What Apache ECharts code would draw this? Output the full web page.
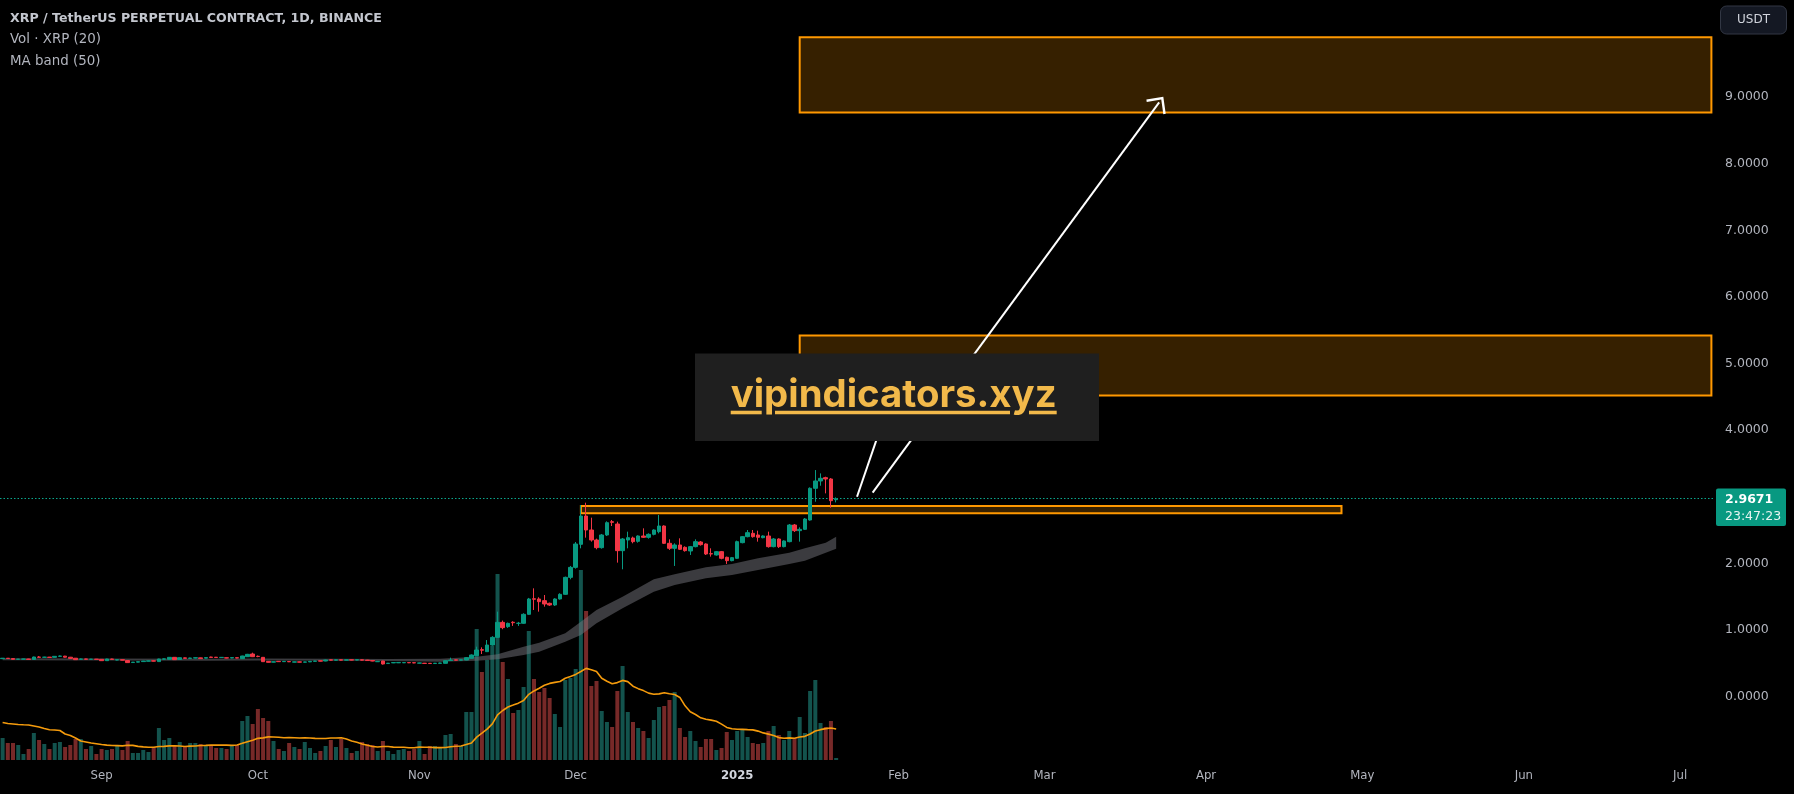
<!DOCTYPE html>
<html><head><meta charset="utf-8">
<script src="https://cdn.jsdelivr.net/npm/echarts@6/dist/echarts.min.js"></script>
<style>html,body{margin:0;padding:0;background:#000;}#c{width:1794px;height:794px;}</style>
</head><body><div id="c"></div>
<script>
// ---------- data ----------
const startDate = '2024-08-13';
const totalDays = 329; // Aug 13 2024 .. Jul 7 2025
// daily candles from 2024-08-13 to 2025-01-20: [open, close, low, high]
const candles = [
[0.568,0.575,0.565,0.578],[0.575,0.570,0.567,0.578],[0.570,0.558,0.555,0.572],[0.558,0.561,0.555,0.564],
[0.561,0.563,0.558,0.566],[0.563,0.556,0.553,0.566],[0.556,0.593,0.553,0.598],[0.593,0.588,0.583,0.608],
[0.588,0.591,0.584,0.596],[0.591,0.586,0.582,0.594],[0.588,0.603,0.585,0.606],[0.603,0.608,0.598,0.615],
[0.606,0.590,0.586,0.610],[0.590,0.572,0.568,0.594],[0.575,0.553,0.549,0.578],[0.558,0.564,0.550,0.570],
[0.564,0.559,0.555,0.567],[0.558,0.561,0.554,0.564],[0.561,0.557,0.553,0.564],
[0.558,0.538,0.534,0.561],[0.538,0.563,0.535,0.566],[0.563,0.557,0.552,0.567],[0.548,0.552,0.544,0.556],
[0.552,0.546,0.542,0.555],[0.540,0.509,0.505,0.543],[0.510,0.516,0.506,0.519],[0.516,0.523,0.513,0.526],
[0.524,0.532,0.521,0.535],[0.530,0.535,0.527,0.539],[0.536,0.531,0.527,0.540],[0.524,0.563,0.521,0.567],
[0.560,0.565,0.556,0.570],[0.558,0.588,0.555,0.593],[0.588,0.553,0.549,0.592],[0.556,0.583,0.552,0.587],
[0.580,0.573,0.569,0.584],[0.572,0.578,0.568,0.582],[0.577,0.582,0.573,0.586],[0.580,0.569,0.565,0.584],
[0.576,0.584,0.572,0.588],[0.592,0.587,0.583,0.598],[0.590,0.585,0.581,0.594],[0.584,0.588,0.580,0.592],
[0.582,0.577,0.573,0.586],[0.578,0.584,0.574,0.588],[0.583,0.577,0.573,0.587],[0.568,0.608,0.565,0.612],
[0.598,0.633,0.595,0.640],[0.638,0.598,0.592,0.658],[0.604,0.600,0.590,0.615],[0.588,0.523,0.518,0.592],
[0.528,0.513,0.509,0.531],[0.516,0.522,0.512,0.526],[0.528,0.523,0.519,0.532],[0.523,0.528,0.519,0.532],
[0.526,0.521,0.517,0.530],[0.516,0.520,0.512,0.524],[0.520,0.516,0.512,0.524],[0.515,0.519,0.511,0.523],
[0.520,0.528,0.516,0.532],[0.528,0.533,0.524,0.537],[0.536,0.531,0.527,0.540],[0.533,0.548,0.529,0.552],
[0.550,0.546,0.542,0.555],[0.545,0.550,0.541,0.554],[0.551,0.546,0.542,0.555],[0.546,0.550,0.542,0.554],
[0.551,0.547,0.543,0.555],[0.548,0.552,0.544,0.556],[0.551,0.546,0.542,0.555],[0.546,0.540,0.536,0.550],
[0.540,0.532,0.528,0.544],[0.522,0.527,0.518,0.531],[0.533,0.488,0.480,0.537],[0.495,0.500,0.491,0.504],
[0.505,0.510,0.501,0.514],[0.506,0.511,0.502,0.515],[0.506,0.510,0.502,0.514],[0.510,0.506,0.502,0.514],
[0.508,0.504,0.500,0.512],[0.500,0.504,0.496,0.508],[0.500,0.496,0.492,0.504],[0.499,0.495,0.491,0.503],
[0.495,0.500,0.491,0.504],[0.498,0.503,0.494,0.507],[0.498,0.538,0.495,0.542],[0.540,0.548,0.536,0.583],
[0.550,0.545,0.541,0.554],[0.546,0.551,0.542,0.556],[0.548,0.583,0.545,0.590],[0.573,0.623,0.570,0.632],
[0.613,0.698,0.608,0.748],[0.703,0.695,0.638,0.738],[0.673,0.773,0.668,0.848],[0.773,0.888,0.765,0.905],
[0.888,1.113,0.880,1.274],[1.113,1.034,1.010,1.140],[1.049,1.098,1.030,1.110],[1.115,1.108,1.060,1.130],
[1.098,1.100,1.060,1.120],[1.099,1.234,1.090,1.250],[1.234,1.464,1.225,1.480],[1.468,1.460,1.299,1.624],
[1.464,1.424,1.274,1.490],[1.439,1.389,1.349,1.524],[1.399,1.374,1.360,1.410],[1.374,1.464,1.360,1.475],
[1.464,1.534,1.455,1.550],[1.534,1.789,1.525,1.800],[1.789,1.939,1.760,1.960],[1.939,2.290,1.920,2.320],
[2.285,2.710,2.225,2.875],[2.710,2.500,2.385,2.910],[2.500,2.350,2.325,2.685],[2.350,2.235,2.210,2.370],
[2.235,2.425,2.220,2.440],[2.425,2.610,2.410,2.630],[2.625,2.615,2.560,2.650],[2.590,2.190,2.010,2.625],
[2.190,2.365,1.910,2.380],[2.350,2.385,2.225,2.475],[2.380,2.325,2.300,2.400],[2.330,2.410,2.310,2.420],
[2.410,2.390,2.380,2.525],[2.390,2.435,2.370,2.450],[2.435,2.500,2.420,2.510],[2.475,2.560,2.450,2.725],
[2.560,2.300,2.290,2.570],[2.300,2.225,2.200,2.360],[2.225,2.275,1.960,2.300],[2.275,2.210,2.200,2.375],
[2.240,2.190,2.175,2.255],[2.185,2.250,2.125,2.260],[2.250,2.325,2.240,2.360],[2.320,2.280,2.265,2.335],
[2.290,2.140,2.125,2.300],[2.145,2.140,2.100,2.225],[2.125,2.175,2.115,2.185],[2.175,2.075,2.060,2.185],
[2.090,2.040,1.990,2.100],[2.040,2.085,2.030,2.095],[2.075,2.325,2.065,2.340],[2.310,2.400,2.300,2.410],
[2.400,2.460,2.390,2.500],[2.450,2.400,2.385,2.500],[2.425,2.390,2.325,2.490],[2.385,2.410,2.375,2.420],
[2.410,2.250,2.235,2.475],[2.250,2.365,2.240,2.380],[2.365,2.250,2.230,2.375],[2.250,2.335,2.240,2.345],
[2.325,2.575,2.315,2.590],[2.575,2.490,2.470,2.590],[2.490,2.510,2.325,2.540],[2.510,2.665,2.500,2.680],
[2.650,3.126,2.640,3.140],[3.126,3.236,2.925,3.400],[3.236,3.276,3.165,3.350],[3.286,3.266,3.050,3.300],
[3.266,2.940,2.835,3.280],[2.955,2.9671,2.915,2.990]
];
// volume (relative units)
const volumes = [
22,17,17,15,6,11,27,20,16,11,17,18,13,15,21,21,11,14,6,11,
10,11,14,10,19,7,7,10,8,13,
32,20,22,15,18,13,17,17,16,14,
15,12,12,11,14,15,39,44,36,51,
42,39,19,11,9,17,13,11,18,12,
7,9,14,20,13,21,12,7,9,18,
16,15,9,19,9,6,10,11,9,11,
19,6,14,14,12,25,26,16,14,48,
48,131,88,100,114,186,
98,81,47,50,73,129,81,68,72,62,
46,33,80,82,91,190,149,74,79,49,
38,33,69,94,48,38,32,29,22,40,
53,54,60,68,32,23,29,19,13,21,
21,10,12,28,20,29,30,23,17,16,
17,29,34,25,20,29,22,43,27,69,
80,37,33,39,2
];
// Vol MA(20) values read for the first 19 days (earlier history not visible)
const volMASeed = [37.5,36.5,36,35.5,35.2,35,34,33,31.5,30.2,30,29.5,26,24.5,22,19,18,17,16.3];
// MA band (50) edges
const bandDates = ['2024-08-13','2024-09-01','2024-09-21','2024-10-01','2024-10-16','2024-10-26','2024-11-05','2024-11-12','2024-11-16','2024-11-21','2024-11-24','2024-11-29','2024-12-02','2024-12-05','2024-12-10','2024-12-16','2024-12-20','2024-12-26','2024-12-31','2025-01-05','2025-01-11','2025-01-14','2025-01-18','2025-01-20'];
const bandUpper = [0.575,0.572,0.568,0.572,0.566,0.562,0.566,0.598,0.633,0.748,0.808,0.948,1.124,1.299,1.499,1.759,1.834,1.939,1.990,2.075,2.160,2.225,2.310,2.400];
const bandLower = [0.545,0.542,0.538,0.542,0.538,0.532,0.523,0.538,0.558,0.623,0.673,0.823,0.923,1.099,1.324,1.574,1.674,1.774,1.824,1.899,1.990,2.040,2.160,2.220];
// drawings
const zones = [
  {from:'2024-12-02', to:'2025-04-27', top:2.86, bottom:2.75},
  {from:'2025-01-13', to:'2025-07-07', top:5.42, bottom:4.52},
  {from:'2025-01-13', to:'2025-07-07', top:9.90, bottom:8.77}
];
const arrowA = [['2025-01-24',3.00],['2025-01-31',4.60]];
const arrowB = [['2025-01-27',3.06],['2025-03-23',8.92]];
const lastPrice = 2.9671;
const countdown = '23:47:23';
const priceTicks = [0,1,2,4,5,6,7,8,9];
const monthNames = ['Jan','Feb','Mar','Apr','May','Jun','Jul','Aug','Sep','Oct','Nov','Dec'];

// ---------- build ----------
const categories = [];
{
  const t0 = Date.parse(startDate + 'T00:00:00Z');
  for (let i = 0; i < totalDays; i++) {
    categories.push(new Date(t0 + i * 86400000).toISOString().slice(0, 10));
  }
}
const UP = '#089981', DOWN = '#f23645';
const volData = volumes.map((v, i) => ({
  value: v,
  itemStyle: {color: candles[i][1] >= candles[i][0] ? '#13534d' : '#772928'}
}));
const volMA = volumes.map((v, i) => {
  if (i < 19) return volMASeed[i];
  let s = 0; for (let k = i - 19; k <= i; k++) s += volumes[k];
  return +(s / 20).toFixed(2);
});
const catIdx = d => categories.indexOf(d);

const chevron = 'path://M12,0 L24,12 L22.3,13.7 L12,3.4 L1.7,13.7 L0,12 Z';

const chart = echarts.init(document.getElementById('c'), null, {renderer: 'canvas'});
const FONT = "'DejaVu Sans', sans-serif";

chart.setOption({
  backgroundColor: '#000000',
  animation: false,
  grid: [
    {left: 0, right: 80, top: 30.5, height: 732.6, containLabel: false},
    {left: 0, right: 80, top: 560, height: 200, containLabel: false}
  ],
  xAxis: [
    {type: 'category', gridIndex: 0, data: categories, boundaryGap: true, show: false},
    {type: 'category', gridIndex: 1, data: categories, boundaryGap: true,
     axisLine: {show: false}, axisTick: {show: false}, splitLine: {show: false},
     axisLabel: {
       show: true, margin: 9, hideOverlap: false,
       interval: (i, v) => v.slice(8) === '01',
       fontFamily: "'DejaVu Sans Condensed', 'DejaVu Sans', sans-serif", fontSize: 13, color: '#b2b5be',
       formatter: v => {
         const m = +v.slice(5, 7) - 1;
         return m === 0 ? '{y|' + v.slice(0, 4) + '}' : monthNames[m];
       },
       rich: {y: {fontWeight: 'bold', color: '#d1d4dc', fontSize: 13, fontFamily: "'DejaVu Sans Condensed', 'DejaVu Sans', sans-serif"}}
     }}
  ],
  yAxis: [
    {type: 'value', gridIndex: 0, position: 'right', min: -1, max: 10, interval: 1,
     axisLine: {show: false}, axisTick: {show: false}, splitLine: {show: false},
     axisLabel: {margin: 11, color: '#b2b5be', fontSize: 12.5, fontFamily: FONT,
       formatter: v => priceTicks.indexOf(v) >= 0 ? v.toFixed(4) : ''}},
    {type: 'value', gridIndex: 1, min: 0, max: 200, show: false}
  ],
  series: [
    {type: 'bar', name: 'Vol', xAxisIndex: 1, yAxisIndex: 1, data: volData, barWidth: 4, z: 1, silent: true},
    {type: 'line', name: 'VolMA', xAxisIndex: 1, yAxisIndex: 1, data: volMA, showSymbol: false, z: 2, silent: true,
     lineStyle: {color: '#f59b0c', width: 1.6}},
    {type: 'custom', name: 'MA band', xAxisIndex: 0, yAxisIndex: 0, z: 3, silent: true,
     data: [[0, 0]],
     renderItem: (params, api) => {
       if (params.dataIndex !== 0) return null;
       const top = bandDates.map((d, k) => api.coord([catIdx(d), bandUpper[k]]));
       const bot = bandDates.map((d, k) => api.coord([catIdx(d), bandLower[k]])).reverse();
       return {type: 'polygon', shape: {points: top.concat(bot)}, style: {fill: 'rgba(118,118,126,0.5)'}};
     }},
    {type: 'candlestick', name: 'XRP', xAxisIndex: 0, yAxisIndex: 0, z: 5, silent: true,
     barWidth: 4,
     data: candles,
     itemStyle: {color: UP, color0: DOWN, borderColor: UP, borderColor0: DOWN, borderWidth: 1},
     markArea: {
       silent: true,
       itemStyle: {color: 'rgba(255,152,0,0.21)', borderColor: '#ff9800', borderWidth: 2},
       data: zones.map(z => [{xAxis: z.from, yAxis: z.top}, {xAxis: z.to, yAxis: z.bottom}])
     },
     markLine: {
       silent: true, symbol: ['none', 'none'], label: {show: false},
       emphasis: {disabled: true},
       data: [
         {yAxis: lastPrice, lineStyle: {color: '#0aa88e', type: [1.5, 2], width: 1.2}},
         [{coord: arrowA[0], lineStyle: {color: '#ffffff', width: 2, type: 'solid'}}, {coord: arrowA[1]}],
         [{coord: arrowB[0], symbol: 'none', lineStyle: {color: '#ffffff', width: 2, type: 'solid'}},
          {coord: arrowB[1], symbol: chevron, symbolSize: [24, 14]}]
       ]
     }}
  ]
});

// ---------- overlays (text) ----------
const py = chart.convertToPixel({yAxisIndex: 0}, lastPrice);
const canvas = document.createElement('canvas');
const ctx = canvas.getContext('2d');
ctx.font = "bold 40px Inter";
const wmText = 'vipindicators.xyz';
const wmFont = 40 * 326 / ctx.measureText(wmText).width;
const UL = '#f2b94a';

chart.setOption({
  graphic: [
    {type: 'text', left: 10, top: 12.5, z: 100, silent: true,
     style: {text: 'XRP / TetherUS PERPETUAL CONTRACT, 1D, BINANCE', fill: '#c3c6ce', fontFamily: FONT, fontSize: 12.6, fontWeight: 'bold'}},
    {type: 'text', left: 10, top: 33.5, z: 100, silent: true,
     style: {text: 'Vol · XRP (20)', fill: '#b2b5be', fontFamily: FONT, fontSize: 13.4}},
    {type: 'text', left: 10, top: 55.5, z: 100, silent: true,
     style: {text: 'MA band (50)', fill: '#b2b5be', fontFamily: FONT, fontSize: 13.4}},
    // USDT badge
    {type: 'rect', z: 100, silent: true, shape: {x: 1720.5, y: 6, width: 66, height: 28, r: 6},
     style: {fill: '#141823', stroke: '#323744', lineWidth: 1}},
    {type: 'text', z: 101, silent: true, x: 1753.5, y: 20,
     style: {text: 'USDT', fill: '#d1d4dc', fontFamily: FONT, fontSize: 12, align: 'center', verticalAlign: 'middle'}},
    // last price tag
    {type: 'rect', z: 100, silent: true, shape: {x: 1716, y: py - 10.5, width: 70, height: 37.5, r: 2},
     style: {fill: UP}},
    {type: 'text', z: 101, silent: true, x: 1725, y: py + 1,
     style: {text: lastPrice.toFixed(4), fill: '#ffffff', fontFamily: FONT, fontSize: 12.5, fontWeight: 'bold', verticalAlign: 'middle'}},
    {type: 'text', z: 101, silent: true, x: 1725, y: py + 18,
     style: {text: countdown, fill: '#e6f4f1', fontFamily: FONT, fontSize: 12.5, verticalAlign: 'middle'}},
    // watermark
    {type: 'rect', z: 100, silent: true, shape: {x: 695, y: 353.5, width: 404, height: 87.5},
     style: {fill: '#1f1f1f'}},
    {type: 'text', z: 101, silent: true, x: 730.7, y: 376.5,
     style: {text: wmText, fill: UL, fontFamily: 'Inter', fontWeight: 'bold', fontSize: wmFont, verticalAlign: 'top'}},
    {type: 'rect', z: 101, silent: true, shape: {x: 730.7, y: 410.7, width: 31, height: 3.6}, style: {fill: UL}},
    {type: 'rect', z: 101, silent: true, shape: {x: 775, y: 410.7, width: 235, height: 3.6}, style: {fill: UL}},
    {type: 'rect', z: 101, silent: true, shape: {x: 1029, y: 410.7, width: 27.7, height: 3.6}, style: {fill: UL}}
  ]
});
</script>
</body></html>
